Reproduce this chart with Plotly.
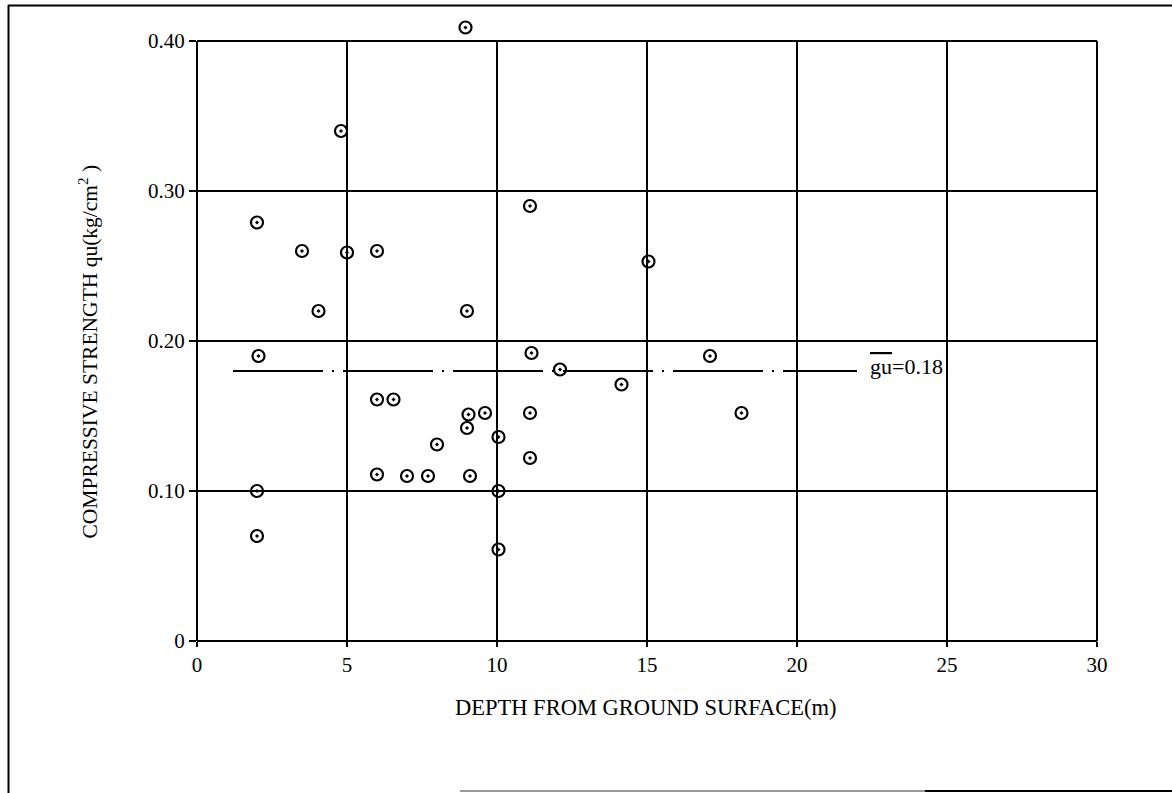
import plotly.graph_objects as go

# Unconfined compressive strength test results vs. sampling depth
depth_m = [2.0, 3.5, 5.0, 6.0, 4.05, 9.0, 4.8, 8.95, 11.1, 2.05,
           6.0, 6.55, 9.05, 9.6, 9.0, 10.05, 8.0, 6.0, 7.0, 7.7,
           9.1, 2.0, 10.05, 2.0, 11.15, 12.1, 14.15, 11.1, 11.1, 10.05,
           15.05, 17.1, 18.15]
qu_kg_cm2 = [0.279, 0.260, 0.259, 0.260, 0.220, 0.220, 0.340, 0.409, 0.290, 0.190,
             0.161, 0.161, 0.151, 0.152, 0.142, 0.136, 0.131, 0.111, 0.110, 0.110,
             0.110, 0.100, 0.100, 0.070, 0.192, 0.181, 0.171, 0.152, 0.122, 0.061,
             0.253, 0.190, 0.152]

mean_qu = 0.18
mean_span = [1.2, 22.0]

x_ticks = [0, 5, 10, 15, 20, 25, 30]
x_tick_text = ["0", "5", "10", "15", "20", "25", "30"]
y_ticks = [0, 0.1, 0.2, 0.3, 0.4]
y_tick_text = ["0", "0.10", "0.20", "0.30", "0.40"]

FONT = "Liberation Serif"
W, H = 1172, 793
ML, MR, MT, MB = 197, 75, 18, 152
PW, PH = W - ML - MR, H - MT - MB

# grid box spans 0..30 m and 0..0.40; headroom above keeps the highest sample visible
X_MAX = x_ticks[-1]
Y_BOX = y_ticks[-1]
Y_TOP = Y_BOX * PH / 600.0

fig = go.Figure()

fig.add_trace(go.Scatter(
    x=mean_span, y=[mean_qu, mean_qu], mode="lines",
    line=dict(color="black", width=1.8, dash="90px,9px,2px,9px"),
    hoverinfo="skip", showlegend=False,
))

fig.add_trace(go.Scatter(
    x=depth_m, y=qu_kg_cm2, mode="markers", cliponaxis=False,
    marker=dict(symbol="circle-open-dot", size=12, color="black",
                line=dict(color="black", width=2.2)),
    showlegend=False,
))

fig.update_xaxes(
    range=[0, X_MAX], tickvals=x_ticks, ticktext=x_tick_text,
    showline=False, showgrid=False, zeroline=False,
    ticks="outside", ticklen=5, tickwidth=1.5, tickcolor="black",
    tickfont=dict(family=FONT, size=21, color="black"),
)
fig.update_yaxes(
    range=[0, Y_TOP], tickvals=y_ticks, ticktext=y_tick_text,
    showline=False, showgrid=False, zeroline=False,
    ticks="outside", ticklen=7, tickwidth=1.5, tickcolor="black",
    tickfont=dict(family=FONT, size=21, color="black"),
)


def px_x(px):
    return (px - ML) / PW


def px_y(py):
    return (H - MB - py) / PH


annotations = [
    dict(text="DEPTH FROM GROUND SURFACE(m)", xref="paper", yref="paper",
         x=px_x(646), y=px_y(722), showarrow=False,
         font=dict(family=FONT, size=22.5, color="black")),
    dict(text="COMPRESSIVE STRENGTH qu(kg/cm<sup>2</sup> )", xref="paper", yref="paper",
         x=px_x(72), y=px_y(352), showarrow=False, textangle=-90,
         font=dict(family=FONT, size=21.5, color="black")),
    dict(text='<span style="text-decoration:overline">gu</span>=%.2f' % mean_qu,
         xref="x", yref="y", x=mean_span[1], y=mean_qu, xanchor="left",
         xshift=11, yshift=5, showarrow=False,
         font=dict(family=FONT, size=22, color="black")),
]

grid_line = dict(color="black", width=2)
shapes = []
# grid box: vertical lines at each depth tick, horizontal lines at each strength tick
for xv in x_ticks:
    shapes.append(dict(type="line", xref="paper", yref="paper", layer="below",
                       x0=xv / X_MAX, x1=xv / X_MAX, y0=0, y1=Y_BOX / Y_TOP, line=grid_line))
for yv in y_ticks:
    shapes.append(dict(type="line", xref="paper", yref="paper", layer="below",
                       x0=0, x1=1, y0=yv / Y_TOP, y1=yv / Y_TOP, line=grid_line))

# page frame around the figure
frame = [
    (px_x(8), px_y(5.5), px_x(W), px_y(5.5), "black"),
    (px_x(8.5), px_y(5), px_x(8.5), px_y(H), "black"),
    (px_x(460), px_y(791), px_x(925), px_y(791), "#999999"),
    (px_x(925), px_y(791), px_x(W), px_y(791), "black"),
]
for x0, y0, x1, y1, col in frame:
    shapes.append(dict(type="line", xref="paper", yref="paper", x0=x0, y0=y0, x1=x1, y1=y1,
                       line=dict(color=col, width=2)))

fig.update_layout(
    width=W, height=H,
    margin=dict(l=ML, r=MR, t=MT, b=MB),
    paper_bgcolor="white", plot_bgcolor="white",
    font=dict(family=FONT, color="black"),
    annotations=annotations, shapes=shapes,
)

fig.write_html("out.html")
